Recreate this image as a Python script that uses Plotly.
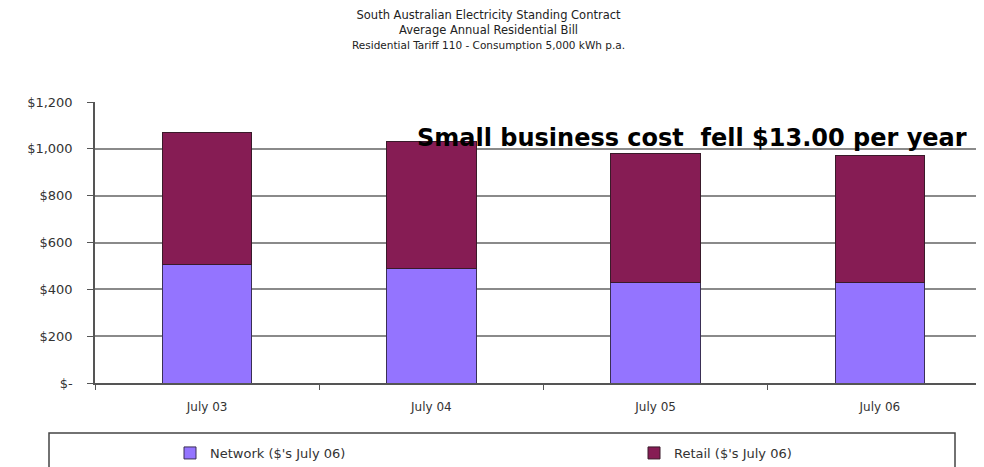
import plotly.graph_objects as go

categories = ["July 03", "July 04", "July 05", "July 06"]
network = [504, 487, 428, 430]
retail = [566, 543, 552, 543]
ytick_vals = [0, 200, 400, 600, 800, 1000, 1200]
ytick_text = ["$-", "$200", "$400", "$600", "$800", "$1,000", "$1,200"]
title_lines = [
    "South Australian Electricity Standing Contract",
    "Average Annual Residential Bill",
    "Residential Tariff 110 - Consumption 5,000 kWh p.a.",
]
note_text = "Small business cost&nbsp; fell $13.00 per year"

FONT = "DejaVu Sans"

fig = go.Figure()
fig.add_trace(go.Bar(
    x=categories, y=network, name="Network ($'s July 06)",
    marker=dict(color="#9474FF", line=dict(color="#3a2f55", width=1)),
    legendwidth=419,
))
fig.add_trace(go.Bar(
    x=categories, y=retail, name="Retail ($'s July 06)",
    marker=dict(color="#861C54", line=dict(color="#3a1a2a", width=1)),
    legendwidth=150,
))

# page body adds an 8px offset; positions below are given in screen pixels
OFF = 8
W, H = 984, 467
ml, mr, mt, mb = 87, 0, 94, 92
pw, ph = W - ml - mr, H - mt - mb

def px_x(p):
    return (p - OFF - ml) / pw

def px_y(p):
    return (H - mb - (p - OFF)) / ph

title_html = (title_lines[0] + "<br>" + title_lines[1] + "<br>"
              + '<span style="font-size:10.5px">' + title_lines[2] + "</span>")

annotations = [
    dict(
        text=title_html, xref="paper", yref="paper", x=px_x(488), y=px_y(29.5),
        xanchor="center", yanchor="middle", showarrow=False, align="center",
        font=dict(family=FONT, size=11.5, color="#222222"),
    ),
    dict(
        text=note_text, xref="paper", yref="paper", x=px_x(415), y=px_y(137.5),
        xanchor="left", yanchor="middle", showarrow=False,
        font=dict(family=FONT, size=24, color="#000000", weight="bold"),
    ),
]

fig.update_layout(
    width=W, height=H,
    margin=dict(l=ml, r=mr, t=mt, b=mb, autoexpand=False),
    barmode="stack", bargap=0.6,
    paper_bgcolor="white", plot_bgcolor="white",
    font=dict(family=FONT, size=12, color="#333333"),
    showlegend=True,
    legend=dict(
        orientation="h", x=px_x(170), y=px_y(438), xanchor="left", yanchor="top",
        font=dict(family=FONT, size=13, color="#333333"),
        bgcolor="rgba(0,0,0,0)", traceorder="normal",
    ),
    annotations=annotations,
    shapes=[dict(
        type="rect", xref="paper", yref="paper",
        x0=px_x(49), x1=px_x(955), y0=px_y(520), y1=px_y(433),
        line=dict(color="#444444", width=1.5), fillcolor="rgba(0,0,0,0)",
    )],
)
fig.update_xaxes(
    type="category", range=[-0.5, 3.5],
    showline=True, linecolor="#555555", linewidth=1.5,
    ticks="outside", tickson="boundaries", ticklen=5, tickcolor="#555555",
    showgrid=False, ticklabelstandoff=12,
    tickfont=dict(family=FONT, size=12, color="#333333"),
)
fig.update_yaxes(
    range=[0, 1200], tickvals=ytick_vals, ticktext=ytick_text,
    showline=True, linecolor="#555555", linewidth=1.5,
    ticks="outside", ticklen=6, tickcolor="#555555",
    showgrid=True, gridcolor="#8a8a8a", gridwidth=1.5,
    zeroline=False, ticklabelstandoff=12,
    tickfont=dict(family=FONT, size=13, color="#333333"),
)

fig.write_html("out.html")
